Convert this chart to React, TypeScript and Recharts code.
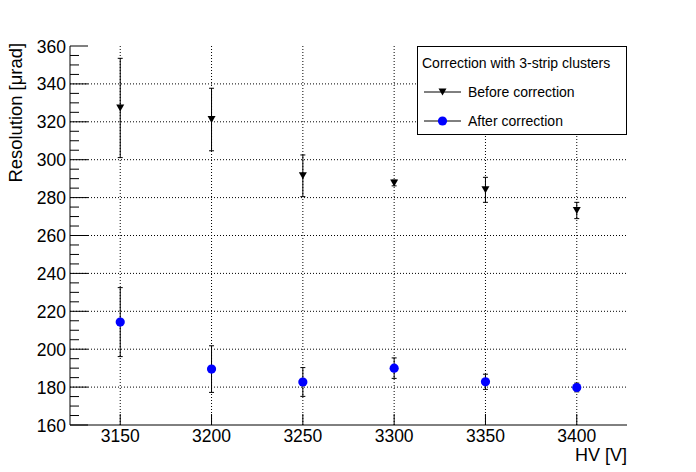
import React from "react"
import {
  ScatterChart,
  Scatter,
  XAxis,
  YAxis,
  CartesianGrid,
  ErrorBar,
  Legend,
} from "recharts"

// ── data ──────────────────────────────────────────────────────────────────────
const hv = [3150, 3200, 3250, 3300, 3350, 3400]
const beforeVals = [327.3, 321.2, 291.5, 287.7, 284.1, 273.2]
const beforeErr = [26.2, 16.5, 11.0, 1.5, 6.6, 4.3]
const afterVals = [214.3, 189.5, 182.7, 190.0, 182.8, 179.8]
const afterErr = [18.2, 12.3, 7.6, 5.4, 4.0, 2.3]

const yMajor = [160, 180, 200, 220, 240, 260, 280, 300, 320, 340, 360]
const yTicks = yMajor.flatMap((v) => [v, v + 5, v + 10, v + 15]).filter((v) => v <= 360)
const yGrid = yMajor.slice(1, -1)

const legendTitle = "Correction with 3-strip clusters"
const beforeName = "Before correction"
const afterName = "After correction"

const beforeData = hv.map((x, i) => ({ x, y: beforeVals[i], err: beforeErr[i] }))
const afterData = hv.map((x, i) => ({ x, y: afterVals[i], err: afterErr[i] }))

const FONT = '"Liberation Sans", Arial, Helvetica, sans-serif'

// ── markers ───────────────────────────────────────────────────────────────────
const TriangleDown = (props: any) => {
  const { cx, cy } = props
  return (
    <polygon
      points={`${cx - 4},${cy - 3.5} ${cx + 4},${cy - 3.5} ${cx},${cy + 3.5}`}
      fill="#000"
    />
  )
}
const Dot = (props: any) => {
  const { cx, cy } = props
  return <circle cx={cx} cy={cy} r={4.6} fill="#0000ff" />
}

// ── ticks ─────────────────────────────────────────────────────────────────────
const YTick = ({ x, y, payload }: any) => {
  const major = payload.value % 20 === 0
  return (
    <g>
      <line x1={x} x2={x + (major ? 18 : 9)} y1={y} y2={y} stroke="#000" />
      {major && (
        <text x={x - 4} y={y + 6.5} textAnchor="end" fontSize={17.5} fontFamily={FONT} fill="#000">
          {payload.value}
        </text>
      )}
    </g>
  )
}
const XTick = ({ x, y, payload }: any) => (
  <g>
    <line x1={x} x2={x} y1={y} y2={y - 11} stroke="#000" />
    <text x={x} y={y + 17} textAnchor="middle" fontSize={17.5} fontFamily={FONT} fill="#000">
      {payload.value}
    </text>
  </g>
)

// ── legend ────────────────────────────────────────────────────────────────────
const LegendBox = () => (
  <svg width={210} height={90} style={{ display: "block" }}>
    <rect x={0.5} y={0.5} width={209} height={88} fill="#fff" stroke="#000" />
    <text x={5} y={22} fontSize={14} fontFamily={FONT} fill="#000">
      {legendTitle}
    </text>
    <line x1={7} x2={44} y1={46} y2={46} stroke="#000" />
    <TriangleDown cx={25.5} cy={46} />
    <text x={51} y={51} fontSize={14} fontFamily={FONT} fill="#000">
      {beforeName}
    </text>
    <line x1={7} x2={44} y1={75} y2={75} stroke="#000" />
    <Dot cx={25.5} cy={75} />
    <text x={51} y={80} fontSize={14} fontFamily={FONT} fill="#000">
      {afterName}
    </text>
  </svg>
)

export default function App() {
  return (
    <div style={{ position: "absolute", left: 0, top: 0, background: "#fff" }}>
      <ScatterChart width={696} height={472} margin={{ top: 46, right: 69, bottom: 0, left: 0 }}>
        <CartesianGrid
          stroke="#000"
          strokeDasharray="1 2"
          verticalValues={hv}
          horizontalValues={yGrid}
        />
        <XAxis
          type="number"
          dataKey="x"
          domain={[3122.5, 3427.5]}
          ticks={hv}
          interval={0}
          height={47}
          tickSize={0}
          tickMargin={0}
          tickLine={false}
          axisLine={{ stroke: "#000" }}
          tick={<XTick />}
          label={{
            value: "HV [V]",
            content: ({ viewBox }: any) => (
              <text
                x={viewBox.x + viewBox.width}
                y={viewBox.y + 36}
                textAnchor="end"
                fontSize={18}
                fontFamily={FONT}
                fill="#000"
              >
                HV [V]
              </text>
            ),
          }}
        />
        <XAxis
          xAxisId="top"
          orientation="top"
          type="number"
          dataKey="x"
          domain={[3122.5, 3427.5]}
          height={0}
          tick={false}
          tickLine={false}
          axisLine={{ stroke: "#000" }}
        />
        <YAxis
          type="number"
          dataKey="y"
          domain={[160, 360]}
          ticks={yTicks}
          interval={0}
          width={70}
          tickSize={0}
          tickMargin={0}
          tickLine={false}
          axisLine={{ stroke: "#000" }}
          tick={<YTick />}
          label={{
            value: "Resolution [μrad]",
            content: ({ viewBox }: any) => (
              <text
                transform={`translate(${viewBox.x + 22}, ${viewBox.y - 3}) rotate(-90)`}
                textAnchor="end"
                fontSize={18.4}
                fontFamily={FONT}
                fill="#000"
              >
                Resolution [μrad]
              </text>
            ),
          }}
        />
        <YAxis
          yAxisId="right"
          orientation="right"
          type="number"
          domain={[160, 360]}
          width={0}
          tick={false}
          tickLine={false}
          axisLine={{ stroke: "#000" }}
        />
        <Legend
          layout="vertical"
          align="center"
          verticalAlign="middle"
          wrapperStyle={{ position: "absolute", left: 417, top: 46, width: 210, height: 90 }}
          content={() => <LegendBox />}
        />
        <Scatter
          name={beforeName}
          data={beforeData}
          shape={<TriangleDown />}
          isAnimationActive={false}
        >
          <ErrorBar dataKey="err" direction="y" width={2.5} stroke="#000" strokeWidth={1} />
        </Scatter>
        <Scatter
          name={afterName}
          data={afterData}
          shape={<Dot />}
          isAnimationActive={false}
        >
          <ErrorBar dataKey="err" direction="y" width={2.5} stroke="#000" strokeWidth={1} />
        </Scatter>
      </ScatterChart>
    </div>
  )
}
